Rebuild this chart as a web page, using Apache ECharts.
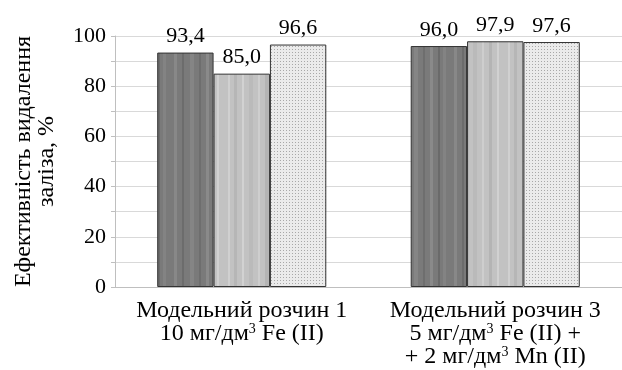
<!DOCTYPE html>
<html><head><meta charset="utf-8">
<script src="https://cdn.jsdelivr.net/npm/echarts@6/dist/echarts.min.js"></script>
<style>html,body{margin:0;padding:0;background:#fff}#c{width:622px;height:370px}</style>
</head><body><div id="c"></div>
<script>
const categories = ['Модельний розчин 1\n10 мг/дм{s|3} Fe (II)', 'Модельний розчин 3\n5 мг/дм{s|3} Fe (II) +\n+ 2 мг/дм{s|3} Mn (II)'];
const series1 = [93.4, 96.0];
const series2 = [85.0, 97.9];
const series3 = [96.6, 97.6];
const yTicks = [0, 20, 40, 60, 80, 100];
const yTitle = 'Ефективність видалення\nзаліза, %';

function stripes(base, cols) {
  const c = document.createElement('canvas'); c.width = 56; c.height = 4;
  const g = c.getContext('2d'); g.fillStyle = base; g.fillRect(0, 0, 56, 4);
  cols.forEach(([x, w, col]) => { g.fillStyle = col; g.fillRect(x, 0, w, 4); });
  return c;
}
function dots() {
  const c = document.createElement('canvas'); c.width = 3; c.height = 3;
  const g = c.getContext('2d'); g.fillStyle = '#ebebeb'; g.fillRect(0, 0, 3, 3);
  g.fillStyle = '#a8a8a8'; g.fillRect(1, 1, 1, 1);
  return c;
}
const p1 = stripes('#7a7a7a', [[6,3,'#888'],[14,2,'#6c6c6c'],[22,4,'#858585'],[31,2,'#6e6e6e'],[38,3,'#8a8a8a'],[46,2,'#6a6a6a'],[51,3,'#838383']]);
const p2 = stripes('#c2c2c2', [[4,2,'#d0d0d0'],[10,3,'#b6b6b6'],[18,2,'#d2d2d2'],[25,4,'#bababa'],[34,2,'#cecece'],[41,3,'#b4b4b4'],[49,2,'#d1d1d1']]);
const p3 = dots();

const fmt = p => p.value.toFixed(1).replace('.', ',');
const font = '"Liberation Serif", "Times New Roman", serif';
const lbl = { show: true, position: 'top', distance: 5, formatter: fmt, fontFamily: font, fontSize: 22, color: '#000' };
function mk(name, data, pat) {
  return { name, type: 'bar', data, barGap: '0%', barCategoryGap: '33.3%',
    itemStyle: { color: { image: pat, repeat: 'repeat' }, borderColor: '#333', borderWidth: 1 },
    label: lbl };
}
const chart = echarts.init(document.getElementById('c'));
chart.setOption({
  animation: false,
  grid: { left: 115, right: -3, top: 36, bottom: 83, containLabel: false },
  xAxis: { type: 'category', data: categories,
    axisLine: { lineStyle: { color: '#bfbfbf' } }, axisTick: { show: false },
    axisLabel: { interval: 0, margin: 12, fontFamily: font, fontSize: 24, color: '#000', lineHeight: 23,
      rich: { s: { fontSize: 14, verticalAlign: 'top', lineHeight: 23, padding: [0, 0, 8, 0], fontFamily: font, color: '#000' } } } },
  yAxis: { type: 'value', min: 0, max: 100, interval: 10,
    name: yTitle, nameLocation: 'middle', nameGap: 57, nameRotate: 90,
    nameTextStyle: { fontFamily: font, fontSize: 24, color: '#000', lineHeight: 23 },
    axisLine: { show: true, lineStyle: { color: '#bfbfbf' } },
    axisTick: { show: true, length: 4, lineStyle: { color: '#bfbfbf' } },
    splitLine: { lineStyle: { color: '#d9d9d9' } },
    axisLabel: { margin: 9, fontFamily: font, fontSize: 22, color: '#000',
      formatter: v => yTicks.includes(v) ? String(v) : '' } },
  series: [mk('1', series1, p1), mk('2', series2, p2), mk('3', series3, p3)]
});
</script></body></html>
